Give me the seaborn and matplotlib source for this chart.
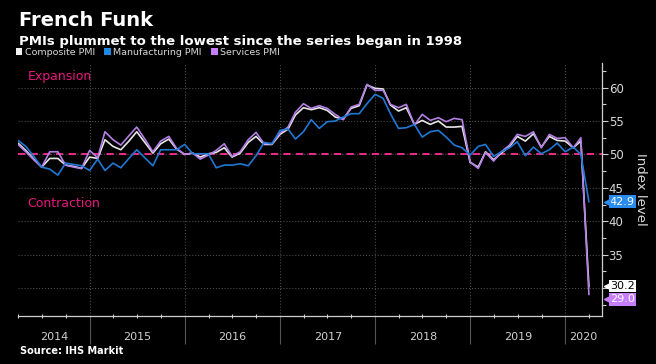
import pandas as pd
import matplotlib
matplotlib.use('Agg')
import matplotlib.pyplot as plt
import matplotlib.dates as mdates
from matplotlib.patches import Patch
from matplotlib.ticker import MultipleLocator, FuncFormatter
import seaborn as sns

# Monthly PMI readings, Mar 2014 - Mar 2020 (month-end)
months = pd.date_range('2014-03-31', '2020-03-31', freq='ME')

composite = [51.7, 50.6, 49.3, 48.1, 49.4, 49.4, 48.4, 48.2, 47.9, 49.6,
             49.4, 52.2, 51.2, 50.7, 52.0, 53.4, 51.8, 50.2, 51.6, 52.3,
             50.8, 50.0, 50.2, 49.6, 50.1, 50.3, 51.0, 49.6, 50.2, 51.8,
             52.7, 51.5, 51.5, 53.0, 53.8, 55.9, 57.0, 56.7, 57.0, 56.6,
             55.6, 55.3, 56.9, 57.3, 60.4, 59.9, 59.8, 57.4, 56.5, 57.0,
             54.5, 55.1, 54.5, 55.0, 54.1, 54.1, 54.2, 48.8, 48.1, 50.4,
             49.2, 50.2, 51.2, 52.7, 52.0, 53.1, 51.1, 52.7, 52.1, 52.0,
             51.0, 52.0, 30.2]
services = [51.5, 50.4, 49.2, 48.1, 50.4, 50.4, 48.4, 48.1, 47.9, 50.6,
            49.5, 53.4, 52.2, 51.4, 52.8, 54.1, 52.3, 50.4, 52.0, 52.7,
            50.9, 50.0, 50.2, 49.3, 49.9, 50.6, 51.6, 49.7, 50.4, 52.2,
            53.3, 51.6, 51.6, 53.2, 54.1, 56.3, 57.6, 56.9, 57.3, 56.9,
            56.0, 55.2, 57.1, 57.5, 60.5, 59.6, 59.6, 57.5, 57.0, 57.5,
            54.4, 56.0, 55.1, 55.5, 54.9, 55.4, 55.2, 48.9, 47.9, 50.3,
            49.0, 50.4, 51.4, 53.0, 52.7, 53.4, 51.0, 53.0, 52.4, 52.5,
            51.0, 52.5, 29.0]
manufacturing = [52.1, 51.2, 49.7, 48.1, 47.8, 46.9, 48.7, 48.5, 48.3, 47.6,
                 49.3, 47.6, 48.7, 48.0, 49.4, 50.7, 49.5, 48.3, 50.7, 50.7,
                 50.7, 51.5, 50.1, 50.1, 50.1, 48.0, 48.4, 48.4, 48.6, 48.3,
                 49.8, 51.8, 51.6, 53.6, 53.8, 52.3, 53.4, 55.2, 53.9, 54.9,
                 55.0, 55.6, 56.1, 56.1, 57.6, 59.0, 58.4, 56.1, 53.9, 54.0,
                 54.5, 52.6, 53.4, 53.6, 52.6, 51.4, 51.0, 49.9, 51.2, 51.5,
                 49.7, 50.4, 51.0, 51.9, 49.8, 51.1, 50.1, 50.7, 51.7, 50.4,
                 51.1, 50.0, 42.9]

series_names = ['Composite PMI', 'Manufacturing PMI', 'Services PMI']
line_colors = {'Composite PMI': '#e6e6e6', 'Services PMI': '#b47fe4',
               'Manufacturing PMI': '#1f78d4'}
swatch_colors = ['#f2f2f2', '#1e88e5', '#c77dff']
years = ['2014', '2015', '2016', '2017', '2018', '2019', '2020']

df = pd.DataFrame({'date': months, 'Composite PMI': composite,
                   'Services PMI': services,
                   'Manufacturing PMI': manufacturing})
long_df = df.melt(id_vars='date', var_name='series', value_name='value')

sns.set_theme(style='ticks', rc={'figure.facecolor': 'black',
                                 'axes.facecolor': 'black',
                                 'savefig.facecolor': 'black'})
plt.rcParams['font.family'] = ['DejaVu Sans']

fig = plt.figure(figsize=(6.56, 3.64), dpi=100)
ax = fig.add_axes([0.0274, 0.1319, 0.8898, 0.6951])

sns.lineplot(data=long_df, x='date', y='value', hue='series',
             hue_order=['Composite PMI', 'Services PMI', 'Manufacturing PMI'],
             palette=line_colors, linewidth=1.2, legend=False, ax=ax)

ax.axhline(50, color='#ff2d95', linewidth=1.3, dashes=(4, 3), zorder=1)

ax.set_xlim(pd.Timestamp('2014-03-31'), pd.Timestamp('2020-05-19'))
ax.set_ylim(25.8, 63.7)

# axes styling
for side in ['left', 'top']:
    ax.spines[side].set_visible(False)
for side in ['right', 'bottom']:
    ax.spines[side].set_color('#cfcfcf')
    ax.spines[side].set_linewidth(0.9)

ax.yaxis.tick_right()
ax.yaxis.set_label_position('right')
ax.yaxis.set_major_locator(MultipleLocator(5))
ax.yaxis.set_minor_locator(MultipleLocator(2.5))
# the "30" label sits under the last-value tags, as in the original
ax.yaxis.set_major_formatter(FuncFormatter(lambda v, p: '' if round(v) == 30 else f'{v:.0f}'))
ax.tick_params(axis='y', which='major', colors='#cfcfcf', labelcolor='#d8d8d8',
               labelsize=8.5, length=4, width=0.8, pad=1, direction='out')
ax.tick_params(axis='y', which='minor', colors='#cfcfcf', length=3, width=0.8)
ax.set_ylabel('Index level', color='#d8d8d8', fontsize=9.5, rotation=270,
              labelpad=17)

ax.xaxis.set_major_locator(mdates.YearLocator())
ax.xaxis.set_minor_locator(mdates.MonthLocator(bymonth=[4, 7, 10]))
ax.xaxis.set_major_formatter(plt.NullFormatter())
ax.tick_params(axis='x', which='major', colors='#555555', length=20, width=0.8,
               direction='out')
ax.tick_params(axis='x', which='minor', colors='#cfcfcf', length=3, width=0.8,
               direction='inout')
ax.set_xlabel('')

ax.grid(True, which='major', color='#4a4a4a', linestyle=':', linewidth=0.8)

# year labels centred in each visible year span
x0, x1 = ax.get_xlim()
for y in years:
    a = max(mdates.date2num(pd.Timestamp(f'{y}-01-01')), x0)
    b = min(mdates.date2num(pd.Timestamp(f'{int(y) + 1}-01-01')), x1)
    ax.text((a + b) / 2, -0.085, y, transform=ax.get_xaxis_transform(),
            ha='center', va='center', color='#d0d0d0', fontsize=8)

ax.text(0.016, 61.6, 'Expansion', transform=ax.get_yaxis_transform(),
        color='#e8177d', fontsize=9, va='center')
ax.text(0.016, 42.7, 'Contraction', transform=ax.get_yaxis_transform(),
        color='#e8177d', fontsize=9, va='center')

# last-value tags
tags = [(services[-1], '#c77dff', 'white', 28.3, 3),
        (manufacturing[-1], '#2b8cf0', 'white', manufacturing[-1], 4),
        (composite[-1], 'white', 'black', 30.3, 5)]
for val, bg, fg, ypos, z in tags:
    ax.text(1.014, ypos, f'{val:.1f}', transform=ax.get_yaxis_transform(),
            ha='left', va='center', fontsize=8, color=fg, clip_on=False,
            zorder=z, bbox=dict(boxstyle='square,pad=0.12', fc=bg, ec='none'))
    ax.plot([1.009], [ypos], marker='<', markersize=5, color=bg,
            transform=ax.get_yaxis_transform(), clip_on=False, zorder=z)

# header
fig.text(0.029, 0.97, 'French Funk', color='white', fontsize=14,
         fontweight='bold', va='top', ha='left')
fig.text(0.029, 0.905, 'PMIs plummet to the lowest since the series began in 1998',
         color='white', fontsize=9.5, fontweight='bold', va='top', ha='left')

handles = [Patch(facecolor=c, edgecolor='none') for c in swatch_colors]
fig.legend(handles, series_names, loc='center left',
           bbox_to_anchor=(0.018, 0.857), ncol=3, frameon=False, fontsize=6.8,
           labelcolor='#d8d8d8', handlelength=0.7, handleheight=0.7,
           handletextpad=0.25, columnspacing=1.0, borderaxespad=0)

fig.text(0.031, 0.035, 'Source: IHS Markit', color='white', fontsize=7,
         fontweight='bold', va='center', ha='left')

fig.savefig('out.png', dpi=100, facecolor='black')
